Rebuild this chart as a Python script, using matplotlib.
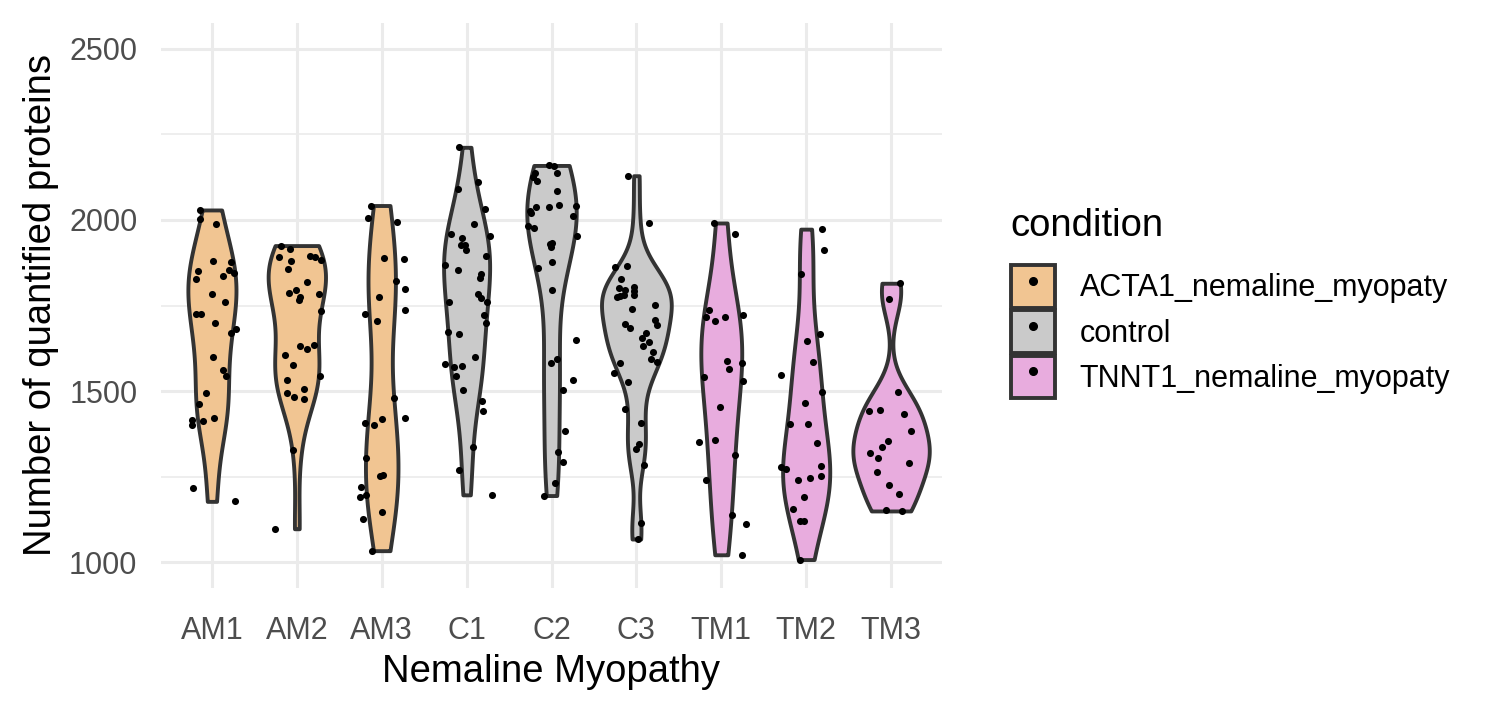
import matplotlib
matplotlib.use("Agg")
import matplotlib.pyplot as plt
from matplotlib.patches import Patch
from matplotlib.lines import Line2D
import numpy as np

# samples (x axis order)
groups = ["AM1", "AM2", "AM3", "C1", "C2", "C3", "TM1", "TM2", "TM3"]
group_cond = ["ACTA1_nemaline_myopaty"] * 3 + ["control"] * 3 + ["TNNT1_nemaline_myopaty"] * 3

conditions = ["ACTA1_nemaline_myopaty", "control", "TNNT1_nemaline_myopaty"]
cond_colors = ["#F1C592", "#CACACA", "#E8ACDE"]

# number of quantified proteins per sample
am1 = [2029, 2003, 1988, 1881, 1876, 1852, 1855, 1845, 1826, 1835, 1784, 1760, 1726, 1726,
       1699, 1680, 1670, 1599, 1562, 1544, 1495, 1462, 1417, 1402, 1413, 1421, 1218, 1178]
am2 = [1925, 1915, 1893, 1896, 1891, 1883, 1879, 1858, 1820, 1786, 1794, 1774, 1766, 1785,
       1735, 1632, 1623, 1634, 1605, 1575, 1544, 1533, 1495, 1484, 1506, 1478, 1327, 1098]
am3 = [2042, 2005, 1993, 1890, 1886, 1823, 1799, 1774, 1726, 1704, 1738, 1480, 1418, 1406,
       1400, 1421, 1305, 1252, 1255, 1221, 1191, 1196, 1147, 1127, 1034]
c1 = [2212, 2111, 2089, 2031, 1988, 1958, 1954, 1946, 1927, 1927, 1913, 1869, 1894, 1855,
      1841, 1830, 1785, 1773, 1760, 1760, 1721, 1698, 1672, 1667, 1599, 1579, 1571, 1573,
      1543, 1504, 1471, 1443, 1336, 1269, 1197]
c2 = [2159, 2157, 2138, 2136, 2124, 2113, 2085, 2037, 2037, 2043, 2041, 2027, 2019, 2012,
      1982, 1975, 1952, 1931, 1932, 1920, 1878, 1859, 1796, 1648, 1594, 1581, 1531, 1502,
      1383, 1321, 1292, 1231, 1195]
c3 = [2129, 1992, 1861, 1866, 1827, 1801, 1794, 1803, 1792, 1782, 1774, 1778, 1782, 1741,
      1751, 1708, 1693, 1696, 1683, 1671, 1656, 1644, 1632, 1615, 1593, 1585, 1583, 1554,
      1527, 1447, 1408, 1345, 1331, 1283, 1115, 1068]
tm1 = [1991, 1959, 1737, 1716, 1706, 1715, 1721, 1589, 1583, 1564, 1542, 1529, 1453, 1351,
       1356, 1314, 1239, 1139, 1113, 1022]
tm2 = [1973, 1911, 1842, 1667, 1646, 1584, 1547, 1496, 1466, 1405, 1404, 1348, 1278, 1273,
       1281, 1251, 1247, 1239, 1191, 1156, 1120, 1120, 1008]
tm3 = [1815, 1768, 1496, 1442, 1445, 1432, 1384, 1353, 1336, 1320, 1304, 1290, 1263, 1225,
       1199, 1154, 1150]

# horizontal jitter of each point (category units)
am1_j = [-0.14, -0.14, 0.05, 0.01, 0.22, -0.17, 0.20, 0.26, -0.19, 0.13, 0.0, 0.15, -0.19, -0.13,
         0.04, 0.28, 0.23, 0.01, 0.13, 0.17, -0.07, -0.15, -0.24, -0.24, -0.11, 0.03, -0.22, 0.27]
am2_j = [-0.19, -0.08, -0.21, 0.16, 0.21, 0.29, -0.07, -0.10, 0.12, -0.09, -0.01, 0.04, 0.02, 0.26,
         0.29, 0.04, 0.12, 0.20, -0.14, -0.05, 0.27, -0.11, -0.11, -0.03, 0.09, 0.09, -0.04, -0.26]
am3_j = [-0.13, -0.16, 0.18, 0.03, 0.26, 0.17, 0.28, -0.03, -0.20, -0.05, 0.28, 0.14, 0.0, -0.20,
         -0.09, 0.28, -0.18, -0.02, 0.01, -0.24, -0.25, -0.18, 0.0, -0.22, -0.11]
c1_j = [-0.09, 0.13, -0.10, 0.22, 0.09, -0.18, 0.28, -0.05, -0.07, -0.02, -0.01, -0.26, 0.23, -0.10,
        0.17, 0.16, 0.13, 0.17, -0.21, 0.24, 0.21, 0.23, -0.22, -0.09, 0.10, -0.25, -0.15, -0.05,
        -0.13, -0.04, 0.18, 0.19, 0.07, -0.09, 0.30]
c2_j = [-0.03, 0.03, -0.20, 0.06, -0.22, -0.17, 0.06, -0.18, -0.03, 0.09, 0.29, -0.25, -0.24, 0.25,
        -0.28, -0.21, 0.30, -0.02, 0.01, -0.01, 0.0, -0.16, 0.01, 0.29, 0.07, -0.01, 0.25, 0.13,
        0.16, 0.08, 0.14, 0.04, -0.09]
c3_j = [-0.10, 0.15, -0.25, -0.11, -0.18, -0.20, -0.13, -0.03, -0.03, -0.03, -0.23, -0.19, -0.15, -0.05,
        0.22, 0.22, 0.24, -0.13, -0.07, 0.11, 0.07, 0.15, 0.08, 0.20, 0.17, 0.24, -0.19, -0.26,
        -0.10, -0.13, 0.06, 0.03, 0.0, 0.09, 0.06, 0.02]
tm1_j = [-0.08, 0.16, -0.14, -0.18, -0.07, 0.04, 0.26, 0.07, 0.24, 0.09, -0.20, 0.25, -0.01, -0.26,
         -0.07, 0.16, -0.18, 0.13, 0.29, 0.24]
tm2_j = [0.19, 0.21, -0.06, 0.16, 0.01, 0.08, -0.30, 0.19, -0.01, -0.19, 0.02, 0.13, -0.30, -0.24,
         0.17, 0.17, 0.05, -0.10, -0.02, -0.15, -0.07, -0.02, -0.07]
tm3_j = [0.11, -0.03, 0.08, -0.26, -0.13, 0.15, 0.24, -0.04, -0.11, -0.25, -0.15, 0.21, -0.16, -0.02,
         0.09, -0.06, 0.13]

values = [am1, am2, am3, c1, c2, c3, tm1, tm2, tm3]
jitters = [am1_j, am2_j, am3_j, c1_j, c2_j, c3_j, tm1_j, tm2_j, tm3_j]

y_ticks = [1000, 1500, 2000, 2500]


def bw_nrd0(x):
    x = np.asarray(x, float)
    hi = x.std(ddof=1)
    q75, q25 = np.percentile(x, [75, 25])
    lo = min(hi, (q75 - q25) / 1.34)
    return 0.9 * lo * len(x) ** -0.2


def kde(x, n=512):
    x = np.asarray(x, float)
    bw = bw_nrd0(x)
    grid = np.linspace(x.min(), x.max(), n)
    d = np.exp(-0.5 * ((grid[:, None] - x[None, :]) / bw) ** 2).sum(axis=1)
    d /= len(x) * bw * np.sqrt(2 * np.pi)
    return grid, d


plt.rcParams["font.family"] = ["Liberation Sans", "DejaVu Sans"]

fig = plt.figure(figsize=(15.11, 7.08), dpi=100)
ax = fig.add_axes([161 / 1511, 1 - 588 / 708, (942 - 161) / 1511, (588 - 23) / 708])

dens = [kde(v) for v in values]
dmax = max(d.max() for _, d in dens)

edge = "#333333"
for i, (g, (grid, d)) in enumerate(zip(groups, dens)):
    pos = i + 1
    w = d / dmax * 0.45
    col = cond_colors[conditions.index(group_cond[i])]
    ax.fill_betweenx(grid, pos - w, pos + w, facecolor=col, edgecolor=edge,
                     linewidth=2.8, zorder=2)
    xs = pos + np.asarray(jitters[i])
    ax.scatter(xs, values[i], s=26, color="black", linewidths=0, zorder=3)

ax.set_xlim(0.4, 9.6)
ax.set_ylim(925, 2575)
ax.set_xticks(range(1, len(groups) + 1))
ax.set_xticklabels(groups)
ax.set_yticks(y_ticks)
ax.set_yticks([1250, 1750, 2250], minor=True)

ax.grid(which="major", color="#EBEBEB", linewidth=2.2, zorder=0)
ax.grid(which="minor", axis="y", color="#EBEBEB", linewidth=1.2, zorder=0)
ax.set_axisbelow(True)
for s in ax.spines.values():
    s.set_visible(False)
ax.tick_params(which="both", length=0, labelsize=22, labelcolor="#4D4D4D")
ax.tick_params(axis="y", pad=17)
ax.tick_params(axis="x", pad=20)

ax.set_xlabel("Nemaline Myopathy", fontsize=27.5, labelpad=6)
ax.set_ylabel("Number of quantified proteins", fontsize=27.5, labelpad=7)

# legend: title drawn separately so the gap to the keys matches
fig.text(1010 / 1511, 1 - 236 / 708, "condition", fontsize=27.5,
         ha="left", va="baseline")

handles = []
for c, col in zip(conditions, cond_colors):
    p = Patch(facecolor=col, edgecolor=edge, linewidth=2.8)
    m = Line2D([], [], marker="o", linestyle="none", color="black", markersize=5.5)
    handles.append((p, m))

leg = fig.legend(handles, conditions, loc="upper left",
                 bbox_to_anchor=(1011 / 1511, 1 - 265 / 708),
                 frameon=False, fontsize=22,
                 handlelength=1.45, handleheight=1.78, handletextpad=0.8,
                 labelspacing=0.08, borderpad=0, borderaxespad=0)

fig.savefig("out.png", dpi=100)
